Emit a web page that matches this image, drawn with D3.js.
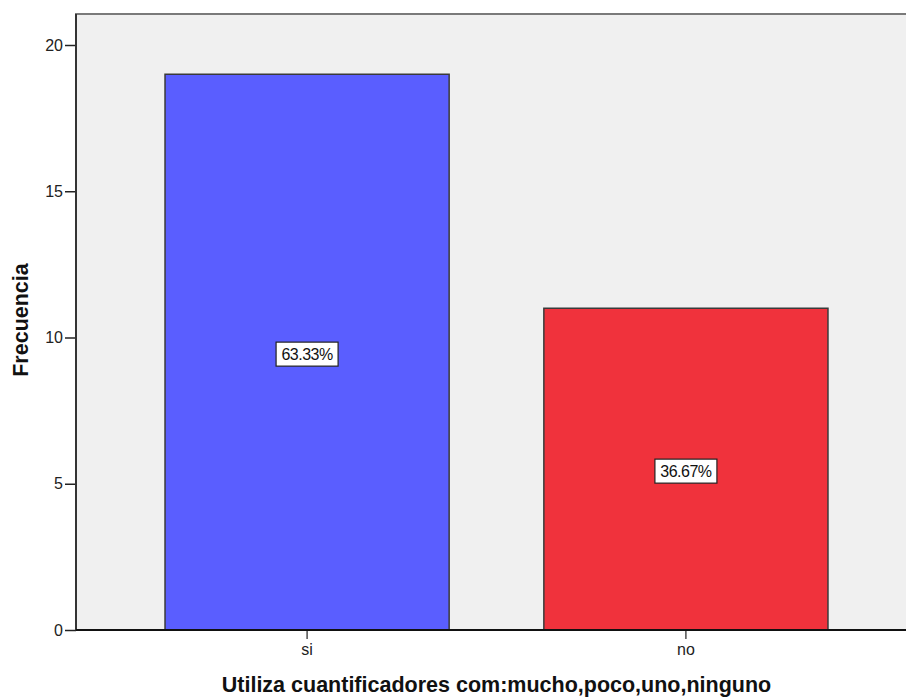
<!DOCTYPE html>
<html>
<head>
<meta charset="utf-8">
<script src="https://cdn.jsdelivr.net/npm/d3@7"></script>
<style>
  body { margin: 0; background: #fff; }
  svg text { font-family: "Liberation Sans", Arial, sans-serif; }
</style>
</head>
<body>
<div id="chart"></div>
<script>
// data
const categories = ['si', 'no'];
const counts = [19, 11];
const percentLabels = ['63.33%', '36.67%'];
const barColors = ['#5a5eff', '#f0323c'];
const yTicks = [0, 5, 10, 15, 20];

const W = 906, H = 698;
const margin = {top: 14, left: 76, bottom: 68};
const plotBottom = H - margin.bottom; // 630

const svg = d3.select('#chart').append('svg')
    .attr('width', W)
    .attr('height', H);

// scales
const x = d3.scaleBand()
    .domain(categories)
    .range([margin.left, 917])
    .paddingInner(0.25)
    .paddingOuter(0.235);

const y = d3.scaleLinear()
    .domain([0, 20])
    .range([plotBottom, 45]);

// plot background
svg.append('rect')
    .attr('x', margin.left)
    .attr('y', margin.top)
    .attr('width', W - margin.left + 5)
    .attr('height', plotBottom - margin.top)
    .attr('fill', '#f0f0f0')
    .attr('stroke', '#7a7a7a')
    .attr('stroke-width', 2);

// bars
svg.selectAll('rect.bar')
    .data(counts)
    .enter().append('rect')
    .attr('class', 'bar')
    .attr('x', (d, i) => x(categories[i]))
    .attr('y', d => y(d))
    .attr('width', x.bandwidth())
    .attr('height', d => plotBottom - y(d))
    .attr('fill', (d, i) => barColors[i])
    .attr('stroke', '#3a3a3a')
    .attr('stroke-width', 1.5);

// percentage labels in boxes
const labels = svg.selectAll('g.lbl')
    .data(counts)
    .enter().append('g')
    .attr('class', 'lbl')
    .attr('transform', (d, i) => `translate(${x(categories[i]) + x.bandwidth() / 2}, ${y(d / 2) + 2})`);

labels.append('rect')
    .attr('x', -31)
    .attr('y', -12)
    .attr('width', 62)
    .attr('height', 24)
    .attr('fill', '#fff')
    .attr('stroke', '#222')
    .attr('stroke-width', 1.2);

labels.append('text')
    .attr('text-anchor', 'middle')
    .attr('dy', '0.36em')
    .attr('font-size', 16)
    .attr('letter-spacing', -0.5)
    .attr('fill', '#111')
    .text((d, i) => percentLabels[i]);

// y axis
const yAxis = d3.axisLeft(y).tickValues(yTicks).tickSize(11).tickPadding(2);
const yAxisGroup = svg.append('g')
    .attr('transform', `translate(${margin.left}, 0)`)
    .call(yAxis);
yAxisGroup.select('.domain').remove();
yAxisGroup.selectAll('line').attr('stroke', '#222').attr('stroke-width', 1.5);
yAxisGroup.selectAll('text').attr('font-size', 16).attr('fill', '#222')
    .attr('font-family', '"Liberation Sans", Arial, sans-serif');
svg.append('line')
    .attr('x1', margin.left).attr('x2', margin.left)
    .attr('y1', margin.top).attr('y2', plotBottom)
    .attr('stroke', '#333').attr('stroke-width', 2);

// x axis
const xAxis = d3.axisBottom(x).tickSize(9).tickPadding(5);
const xAxisGroup = svg.append('g')
    .attr('transform', `translate(0, ${plotBottom})`)
    .call(xAxis);
xAxisGroup.select('.domain').remove();
xAxisGroup.selectAll('line').attr('stroke', '#222').attr('stroke-width', 1.2);
xAxisGroup.selectAll('text').attr('font-size', 16).attr('fill', '#222')
    .attr('font-family', '"Liberation Sans", Arial, sans-serif');
svg.append('line')
    .attr('x1', margin.left).attr('x2', W)
    .attr('y1', plotBottom).attr('y2', plotBottom)
    .attr('stroke', '#111').attr('stroke-width', 2);

// axis titles
svg.append('text')
    .attr('x', (margin.left + 917) / 2)
    .attr('y', 692)
    .attr('text-anchor', 'middle')
    .attr('font-size', 21.5)
    .attr('font-weight', 'bold')
    .attr('fill', '#111')
    .text('Utiliza cuantificadores com:mucho,poco,uno,ninguno');

svg.append('text')
    .attr('transform', 'translate(28, 320) rotate(-90)')
    .attr('text-anchor', 'middle')
    .attr('font-size', 21.5)
    .attr('font-weight', 'bold')
    .attr('fill', '#111')
    .text('Frecuencia');
</script>
</body>
</html>
